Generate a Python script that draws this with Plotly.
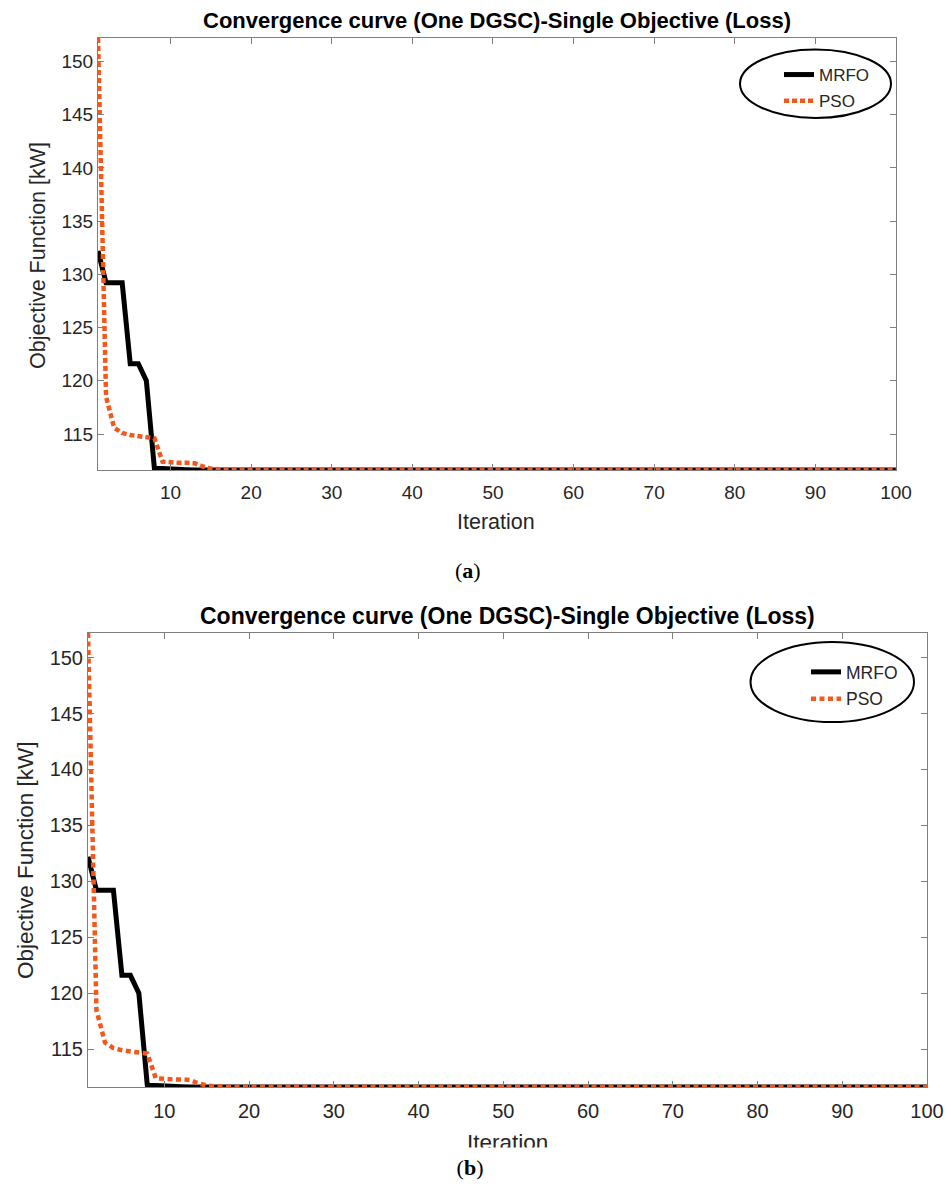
import plotly.graph_objects as go

# ---------------- data ----------------
iterations = list(range(1, 101))

mrfo = [132.2, 129.2, 129.2, 129.2, 121.6, 121.6, 120.0, 111.75, 111.75, 111.75,
        111.7, 111.65, 111.62, 111.62, 111.62, 111.62, 111.62, 111.62, 111.62, 111.62,
        111.62, 111.62, 111.62, 111.62, 111.62, 111.62, 111.62, 111.62, 111.62, 111.62,
        111.62, 111.62, 111.62, 111.62, 111.62, 111.62, 111.62, 111.62, 111.62, 111.62,
        111.62, 111.62, 111.62, 111.62, 111.62, 111.62, 111.62, 111.62, 111.62, 111.62,
        111.62, 111.62, 111.62, 111.62, 111.62, 111.62, 111.62, 111.62, 111.62, 111.62,
        111.62, 111.62, 111.62, 111.62, 111.62, 111.62, 111.62, 111.62, 111.62, 111.62,
        111.62, 111.62, 111.62, 111.62, 111.62, 111.62, 111.62, 111.62, 111.62, 111.62,
        111.62, 111.62, 111.62, 111.62, 111.62, 111.62, 111.62, 111.62, 111.62, 111.62,
        111.62, 111.62, 111.62, 111.62, 111.62, 111.62, 111.62, 111.62, 111.62, 111.62]

pso = [152.2, 118.5, 115.6, 115.1, 114.9, 114.8, 114.8, 114.6, 112.4, 112.3,
       112.3, 112.3, 112.25, 111.95, 111.75, 111.68, 111.62, 111.62, 111.62, 111.62,
       111.62, 111.62, 111.62, 111.62, 111.62, 111.62, 111.62, 111.62, 111.62, 111.62,
       111.62, 111.62, 111.62, 111.62, 111.62, 111.62, 111.62, 111.62, 111.62, 111.62,
       111.62, 111.62, 111.62, 111.62, 111.62, 111.62, 111.62, 111.62, 111.62, 111.62,
       111.62, 111.62, 111.62, 111.62, 111.62, 111.62, 111.62, 111.62, 111.62, 111.62,
       111.62, 111.62, 111.62, 111.62, 111.62, 111.62, 111.62, 111.62, 111.62, 111.62,
       111.62, 111.62, 111.62, 111.62, 111.62, 111.62, 111.62, 111.62, 111.62, 111.62,
       111.62, 111.62, 111.62, 111.62, 111.62, 111.62, 111.62, 111.62, 111.62, 111.62,
       111.62, 111.62, 111.62, 111.62, 111.62, 111.62, 111.62, 111.62, 111.62, 111.62]

x_ticks = [10, 20, 30, 40, 50, 60, 70, 80, 90, 100]
y_ticks = [115, 120, 125, 130, 135, 140, 145, 150]
series_names = ["MRFO", "PSO"]
title_text = "Convergence curve (One DGSC)-Single Objective (Loss)"
x_title = "Iteration"
y_title = "Objective Function [kW]"
captions = ["(<b>a</b>)", "(<b>b</b>)"]

# ---------------- layout helpers ----------------
W, H = 951, 1186
px = lambda v: v / W
py = lambda v: 1 - v / H

ORANGE = "#F2581C"
SANS = "Liberation Sans, Arial, sans-serif"
SERIF = "Liberation Serif, Times New Roman, serif"

y_range = [min(min(mrfo), min(pso)), max(max(mrfo), max(pso))]

fig = go.Figure()

panels = [
    dict(xa="x", ya="y", leg="legend", xd=(98, 896), yd=(38, 470), tf=19,
         dash="5px,3px", xs=5),
    dict(xa="x2", ya="y2", leg="legend2", xd=(88, 927), yd=(633, 1087), tf=20,
         dash="5px,3.5px", xs=6),
]

for i, p in enumerate(panels):
    fig.add_trace(go.Scatter(
        x=iterations, y=mrfo, name=series_names[0], mode="lines",
        line=dict(color="black", width=5), xaxis=p["xa"], yaxis=p["ya"],
        legend=p["leg"], legendgroup=f"g{i}a", cliponaxis=False))
    fig.add_trace(go.Scatter(
        x=iterations, y=pso, name=series_names[1], mode="lines",
        line=dict(color=ORANGE, width=4.5, dash=p["dash"]), xaxis=p["xa"], yaxis=p["ya"],
        legend=p["leg"], legendgroup=f"g{i}b", cliponaxis=False))

axis_common = dict(showline=True, linecolor="#7f7f7f", linewidth=1, mirror="ticks",
                   ticks="inside", ticklen=6, tickcolor="#7f7f7f", showgrid=False,
                   zeroline=False, automargin=False)

layout = dict(
    width=W, height=H, margin=dict(l=0, r=0, t=0, b=0, autoexpand=False),
    paper_bgcolor="white", plot_bgcolor="white", showlegend=True,
)

for i, p in enumerate(panels):
    sx = "" if i == 0 else "2"
    layout["xaxis" + sx] = dict(
        axis_common, domain=[px(p["xd"][0]), px(p["xd"][1])], range=[1, 100],
        tickvals=x_ticks, ticklabelstandoff=p["xs"],
        tickfont=dict(family=SANS, size=p["tf"], color="#262626"),
        anchor="y" + sx)
    layout["yaxis" + sx] = dict(
        axis_common, domain=[py(p["yd"][1]), py(p["yd"][0])], range=y_range,
        tickvals=y_ticks, ticksuffix="\u00a0",
        tickfont=dict(family=SANS, size=p["tf"], color="#262626"),
        anchor="x" + sx)

layout["legend"] = dict(x=px(779), y=py(57), xanchor="left", yanchor="top",
                        bgcolor="rgba(0,0,0,0)", borderwidth=0, tracegroupgap=1,
                        font=dict(family=SANS, size=17, color="#262626"))
layout["legend2"] = dict(x=px(806), y=py(654), xanchor="left", yanchor="top",
                         bgcolor="rgba(0,0,0,0)", borderwidth=0, tracegroupgap=1,
                         font=dict(family=SANS, size=17.5, color="#262626"))

fig.update_layout(**layout)

# ellipses around legends
fig.add_shape(type="circle", xref="paper", yref="paper",
              x0=px(740), x1=px(891), y0=py(118), y1=py(49.5),
              line=dict(color="black", width=2))
fig.add_shape(type="circle", xref="paper", yref="paper",
              x0=px(750.5), x1=px(914), y0=py(722), y1=py(642),
              line=dict(color="black", width=2))

ann = []
# titles
ann.append(dict(x=px(497), y=py(20), text=f"<b>{title_text}</b>", showarrow=False,
                xref="paper", yref="paper", xanchor="center", yanchor="middle",
                font=dict(family=SANS, size=22, color="black")))
ann.append(dict(x=px(507.5), y=py(616), text=f"<b>{title_text}</b>", showarrow=False,
                xref="paper", yref="paper", xanchor="center", yanchor="middle",
                font=dict(family=SANS, size=23, color="black")))
# axis titles
ann.append(dict(x=px(496), y=py(522), text=x_title, showarrow=False,
                xref="paper", yref="paper", xanchor="center", yanchor="middle",
                font=dict(family=SANS, size=21.5, color="#262626")))
ann.append(dict(x=px(507), y=py(1142), text=x_title, showarrow=False,
                xref="paper", yref="paper", xanchor="center", yanchor="middle",
                font=dict(family=SANS, size=22.5, color="#262626")))
ann.append(dict(x=px(38), y=py(256), text=y_title, showarrow=False, textangle=-90,
                xref="paper", yref="paper", xanchor="center", yanchor="middle",
                font=dict(family=SANS, size=21.5, color="#262626")))
ann.append(dict(x=px(25), y=py(860), text=y_title, showarrow=False, textangle=-90,
                xref="paper", yref="paper", xanchor="center", yanchor="middle",
                font=dict(family=SANS, size=22.5, color="#262626")))
# captions
ann.append(dict(x=px(468), y=py(570), text=captions[0], showarrow=False,
                xref="paper", yref="paper", xanchor="center", yanchor="middle",
                font=dict(family=SERIF, size=22, color="black")))
ann.append(dict(x=px(470), y=py(1167), text=captions[1], showarrow=False,
                xref="paper", yref="paper", xanchor="center", yanchor="middle",
                width=400, height=36, bgcolor="white",
                font=dict(family=SERIF, size=22, color="black")))

fig.update_layout(annotations=ann)

fig.write_html("out.html")
